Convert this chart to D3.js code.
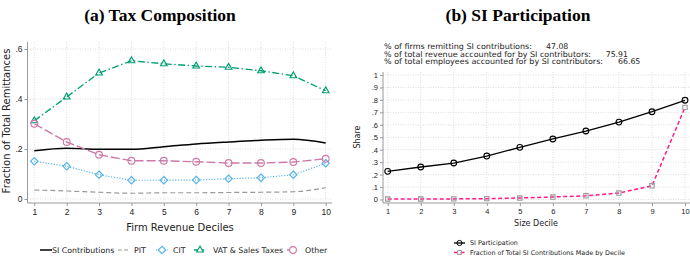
<!DOCTYPE html>
<html>
<head>
<meta charset="utf-8">
<script src="https://cdn.jsdelivr.net/npm/d3@7"></script>
<style>
  body { margin: 0; background: #fff; }
  svg { display: block; font-family: 'DejaVu Sans', sans-serif; }
  .grid line { stroke: #d4d4d4; stroke-width: 0.8; stroke-dasharray: 1,1.5; }
  .axis text { fill: #222; }
  .axis line { stroke: #999; }
</style>
</head>
<body>
<svg id="chart" width="690" height="256"></svg>
<script>
// panel (a) data
var deciles = [1, 2, 3, 4, 5, 6, 7, 8, 9, 10]
var siContrib = [0.193, 0.203, 0.199, 0.199, 0.209, 0.220, 0.228, 0.235, 0.239, 0.224]
var pit = [0.036, 0.032, 0.027, 0.023, 0.025, 0.025, 0.026, 0.027, 0.029, 0.045]
var cit = [0.151, 0.131, 0.097, 0.075, 0.075, 0.076, 0.081, 0.085, 0.097, 0.143]
var vat = [0.313, 0.408, 0.504, 0.553, 0.541, 0.532, 0.527, 0.513, 0.493, 0.433]
var other = [0.301, 0.228, 0.177, 0.153, 0.153, 0.149, 0.144, 0.144, 0.148, 0.161]
var leftTicks = [0, 0.2, 0.4, 0.6]

// panel (b) data
var siParticipation = [0.226, 0.261, 0.293, 0.349, 0.419, 0.486, 0.550, 0.622, 0.705, 0.797]
var siFraction = [0.004, 0.004, 0.005, 0.007, 0.012, 0.020, 0.030, 0.052, 0.110, 0.740]
var rightTicks = [0, 0.1, 0.2, 0.3, 0.4, 0.5, 0.6, 0.7, 0.8, 0.9, 1]
var infoLabels = [
  '% of firms remitting SI contributions:',
  '% of total revenue accounted for by SI contributors:',
  '% of total employees accounted for by SI contributors:'
]
var infoValues = ['47.08', '75.91', '66.65']

var svg = d3.select('#chart')

function fmt(t) {
  if (t === 0) return '0'
  if (t === 1) return '1'
  return d3.format('.1f')(t).replace(/^0/, '')
}

function drawPanel(opt) {
  var g = svg.append('g')
  var x = d3.scaleLinear().domain([1, 10]).range(opt.xRange)
  var y = d3.scaleLinear().domain([0, opt.yMax]).range(opt.yRange)

  // grid
  var grid = g.append('g').attr('class', 'grid')
  grid.selectAll('line.h')
      .data(opt.yTicks)
    .enter().append('line')
      .attr('x1', opt.box[0]).attr('x2', opt.box[2])
      .attr('y1', function (d) { return y(d) }).attr('y2', function (d) { return y(d) })
  grid.selectAll('line.v')
      .data(deciles)
    .enter().append('line')
      .attr('x1', function (d) { return x(d) }).attr('x2', function (d) { return x(d) })
      .attr('y1', opt.box[1]).attr('y2', opt.box[3])

  // axes
  var gy = g.append('g').attr('class', 'axis')
      .attr('transform', 'translate(' + opt.box[0] + ',0)')
      .call(d3.axisLeft(y).tickValues(opt.yTicks).tickFormat(fmt).tickSize(3).tickPadding(2))
  gy.select('.domain').remove()
  gy.selectAll('text').style('font-size', opt.tickFont)
  g.append('line')
      .attr('x1', opt.box[0]).attr('x2', opt.box[0])
      .attr('y1', opt.box[1]).attr('y2', opt.box[3] + 1)
      .attr('stroke', '#999')

  var gx = g.append('g').attr('class', 'axis')
      .attr('transform', 'translate(0,' + (opt.box[3] + 1) + ')')
      .call(d3.axisBottom(x).tickValues(deciles).tickFormat(d3.format('d')).tickSize(3).tickPadding(3))
  gx.select('.domain').remove()
  gx.selectAll('text').style('font-size', opt.tickFont)
  g.append('line')
      .attr('x1', opt.box[0]).attr('x2', opt.box[2])
      .attr('y1', opt.box[3] + 1).attr('y2', opt.box[3] + 1)
      .attr('stroke', '#999')

  // series
  opt.series.forEach(function (s) {
    var line = d3.line()
      .x(function (d, i) { return x(deciles[i]) })
      .y(function (d) { return y(d) })
      .curve(s.curve || d3.curveLinear)
    g.append('path')
      .datum(s.values)
      .attr('fill', 'none')
      .attr('stroke', s.color)
      .attr('stroke-width', s.width)
      .attr('stroke-dasharray', s.dash)
      .attr('d', line)
    if (s.symbol) {
      g.selectAll(null)
          .data(s.values)
        .enter().append('path')
          .attr('transform', function (d, i) { return 'translate(' + x(deciles[i]) + ',' + y(d) + ')' })
          .attr('d', d3.symbol(s.symbol, s.size))
          .attr('fill', 'none')
          .attr('stroke', s.markColor || s.color)
          .attr('stroke-width', 1.1)
    }
  })

  return { x: x, y: y, g: g }
}

// ---------- panel (a)
var seriesA = [
  { name: 'SI Contributions', values: siContrib, color: '#000', width: 1.5, dash: null, curve: d3.curveMonotoneX },
  { name: 'PIT', values: pit, color: '#999', width: 1.2, dash: '5,3', curve: d3.curveMonotoneX },
  { name: 'CIT', values: cit, color: '#56B4E9', width: 1.2, dash: '1.2,1.6', symbol: d3.symbolDiamond2, size: 36 },
  { name: 'VAT & Sales Taxes', values: vat, color: '#009E73', width: 1.3, dash: '7,2.5,1.5,2.5', symbol: d3.symbolTriangle2, size: 32 },
  { name: 'Other', values: other, color: '#CC79A7', width: 1.4, dash: '9,3', symbol: d3.symbolCircle, size: 36 }
]

drawPanel({
  xRange: [34.3, 325.7], yRange: [199, 49], yMax: 0.6,
  yTicks: leftTicks, box: [27.5, 42, 332, 202], tickFont: '8.5px',
  series: seriesA
})

svg.append('text')
    .attr('x', 160).attr('y', 21)
    .attr('text-anchor', 'middle')
    .style('font-family', "'Liberation Serif', serif").style('font-weight', 'bold').style('font-size', '17.5px')
    .text('(a) Tax Composition')

svg.append('text')
    .attr('transform', 'translate(10,121) rotate(-90)')
    .attr('text-anchor', 'middle')
    .style('font-size', '10px').attr('fill', '#222')
    .text('Fraction of Total Remittances')

svg.append('text')
    .attr('x', 180).attr('y', 231)
    .attr('text-anchor', 'middle')
    .style('font-size', '10px').attr('fill', '#222')
    .text('Firm Revenue Deciles')

// legend (a)
var legA = [[40, 52], [118, 134], [156, 173], [194, 213], [287, 305]]
seriesA.forEach(function (s, i) {
  var lg = svg.append('g').attr('transform', 'translate(0,250)')
  lg.append('line')
      .attr('x1', legA[i][0]).attr('x2', legA[i][0] + 12)
      .attr('stroke', s.color).attr('stroke-width', s.width)
      .attr('stroke-dasharray', s.dash ? (i === 2 ? '1.2,1.6' : '4,2') : null)
  if (s.symbol) {
    lg.append('path')
        .attr('transform', 'translate(' + (legA[i][0] + 6) + ',0)')
        .attr('d', d3.symbol(s.symbol, s.size))
        .attr('fill', '#fff').attr('stroke', s.color).attr('stroke-width', 1.1)
  }
  lg.append('text')
      .attr('x', legA[i][1]).attr('dy', '0.35em')
      .style('font-size', '7.8px').attr('fill', '#222')
      .text(s.name)
})

// ---------- panel (b)
var seriesB = [
  { name: 'SI Participation', values: siParticipation, color: '#000', width: 1.3, dash: null, symbol: d3.symbolCircle, size: 26 },
  { name: 'Fraction of Total SI Contributions Made by Decile', values: siFraction, color: '#FF1A8C', width: 1.5, dash: '4,2.5', symbol: d3.symbolSquare2, size: 24, markColor: '#999' }
]

drawPanel({
  xRange: [387.7, 685], yRange: [199.5, 75], yMax: 1,
  yTicks: rightTicks, box: [383, 72, 690, 202], tickFont: '7.5px',
  series: seriesB
})

svg.append('text')
    .attr('x', 518).attr('y', 21)
    .attr('text-anchor', 'middle')
    .style('font-family', "'Liberation Serif', serif").style('font-weight', 'bold').style('font-size', '17.5px')
    .text('(b) SI Participation')

var info = svg.append('g')
var infoLen = [148, 207, 219]
infoLabels.forEach(function (t, i) {
  info.append('text')
      .attr('x', 384).attr('y', 49 + i * 7.7)
      .attr('textLength', infoLen[i]).attr('lengthAdjust', 'spacingAndGlyphs')
      .style('font-size', '7.8px').attr('fill', '#222')
      .text(t)
})
var infoX = [546, 605.7, 618]
infoValues.forEach(function (t, i) {
  info.append('text')
      .attr('x', infoX[i]).attr('y', 49 + i * 7.7)
      .style('font-size', '7.8px').attr('fill', '#222')
      .text(t)
})

svg.append('text')
    .attr('transform', 'translate(360,137) rotate(-90)')
    .attr('text-anchor', 'middle')
    .style('font-size', '8px').attr('fill', '#222')
    .text('Share')

svg.append('text')
    .attr('x', 536).attr('y', 226)
    .attr('text-anchor', 'middle')
    .style('font-size', '8px').attr('fill', '#222')
    .text('Size Decile')

// legend (b)
seriesB.forEach(function (s, i) {
  var lg = svg.append('g').attr('transform', 'translate(0,' + (243 + i * 9.5) + ')')
  lg.append('line')
      .attr('x1', 454).attr('x2', 465)
      .attr('stroke', s.color).attr('stroke-width', s.width)
      .attr('stroke-dasharray', s.dash)
  lg.append('path')
      .attr('transform', 'translate(459.5,0)')
      .attr('d', d3.symbol(s.symbol, s.size * 0.8))
      .attr('fill', 'none').attr('stroke', s.markColor || s.color).attr('stroke-width', 1)
  lg.append('text')
      .attr('x', 470).attr('dy', '0.35em')
      .style('font-size', '6.4px').attr('fill', '#222')
      .text(s.name)
})
</script>
</body>
</html>
